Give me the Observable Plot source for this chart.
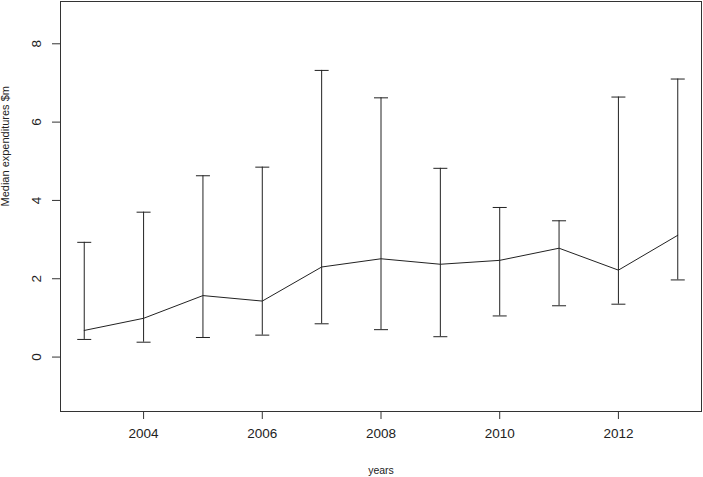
<!DOCTYPE html>
<html>
<head>
<meta charset="utf-8">
<script src="https://cdn.jsdelivr.net/npm/d3@7"></script>
<script src="https://cdn.jsdelivr.net/npm/@observablehq/plot@0.6"></script>
<style>
  html, body { margin: 0; padding: 0; background: #fff; }
  #chart svg { display: block; font-family: "Liberation Sans", Arial, sans-serif; }
</style>
</head>
<body>
<div id="chart"></div>
<script>
const years   = [2003, 2004, 2005, 2006, 2007, 2008, 2009, 2010, 2011, 2012, 2013];
const medians = [0.68, 0.99, 1.57, 1.43, 2.30, 2.51, 2.37, 2.47, 2.78, 2.22, 3.11];
const lows    = [0.45, 0.38, 0.50, 0.56, 0.85, 0.70, 0.52, 1.05, 1.31, 1.35, 1.97];
const highs   = [2.93, 3.70, 4.63, 4.85, 7.32, 6.62, 4.82, 3.82, 3.48, 6.64, 7.10];
const xTicks  = [2004, 2006, 2008, 2010, 2012];
const yTicks  = [0, 2, 4, 6, 8];

const data = years.map((year, i) => ({year, median: medians[i], low: lows[i], high: highs[i]}));

const capSymbol = {
  draw(context, size) {
    const w = Math.sqrt(size / Math.PI);
    context.moveTo(-w, 0);
    context.lineTo(w, 0);
  }
};

const ink = "#222";

const chart = Plot.plot({
  width: 703,
  height: 477,
  marginLeft: 60,
  marginRight: 2,
  marginTop: 1,
  marginBottom: 66,
  style: {fontFamily: "'Liberation Sans', Arial, sans-serif", background: "#fff", color: ink},
  x: {domain: [2002.6, 2013.4]},
  y: {domain: [-1.39, 9.08]},
  marks: [
    Plot.frame({stroke: "#333"}),
    Plot.axisX({ticks: xTicks, tickFormat: d3.format("d"), tickSize: 8, tickPadding: 9, fontSize: 13.5, label: null, stroke: "#333"}),
    Plot.axisY({ticks: yTicks, tickSize: 8, tickPadding: 12, tickRotate: -90, fontSize: 13.5, label: null, stroke: "#333"}),
    Plot.text(["years"], {frameAnchor: "bottom", dy: 62, fontSize: 10.5, fill: ink}),
    Plot.text(["Median expenditures $m"], {frameAnchor: "left", dx: -55, rotate: -90, fontSize: 11, fill: ink}),
    Plot.ruleX(data, {x: "year", y1: "low", y2: "high", stroke: ink, strokeWidth: 1}),
    Plot.dot(data, {x: "year", y: "high", symbol: capSymbol, r: 7, stroke: ink, strokeWidth: 1, fill: "none"}),
    Plot.dot(data, {x: "year", y: "low", symbol: capSymbol, r: 7, stroke: ink, strokeWidth: 1, fill: "none"}),
    Plot.line(data, {x: "year", y: "median", stroke: ink, strokeWidth: 1})
  ]
});

document.getElementById("chart").appendChild(chart);
</script>
</body>
</html>
